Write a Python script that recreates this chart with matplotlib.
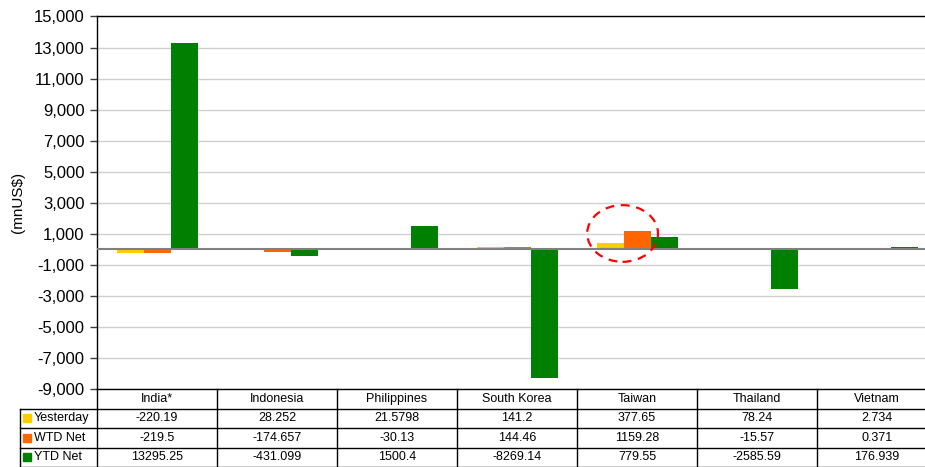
import matplotlib.pyplot as plt
import numpy as np
from matplotlib.patches import Ellipse, Rectangle
from matplotlib.ticker import FuncFormatter

plt.rcParams['font.family'] = ['Liberation Sans', 'DejaVu Sans']

# data
countries = ['India*', 'Indonesia', 'Philippines', 'South Korea', 'Taiwan', 'Thailand', 'Vietnam']
series_names = ['Yesterday', 'WTD Net', 'YTD Net']
yesterday = [-220.19, 28.252, 21.5798, 141.2, 377.65, 78.24, 2.734]
wtd_net = [-219.5, -174.657, -30.13, 144.46, 1159.28, -15.57, 0.371]
ytd_net = [13295.25, -431.099, 1500.4, -8269.14, 779.55, -2585.59, 176.939]
yesterday_txt = ['-220.19', '28.252', '21.5798', '141.2', '377.65', '78.24', '2.734']
wtd_txt = ['-219.5', '-174.657', '-30.13', '144.46', '1159.28', '-15.57', '0.371']
ytd_txt = ['13295.25', '-431.099', '1500.4', '-8269.14', '779.55', '-2585.59', '176.939']
colors = ['#FFCC00', '#FF6600', '#008000']

W, H = 925, 467
fig = plt.figure(figsize=(W / 100, H / 100), dpi=100)
# plot area in pixels: x 97..937, y 16.5..389
ax_h_px = 389 - 16.5
ax = fig.add_axes([97 / W, 1 - 389 / H, 840 / W, ax_h_px / H])

x = np.arange(len(countries))
bw = 0.225
for k, vals in enumerate([yesterday, wtd_net, ytd_net]):
    ax.bar(x + (k - 1) * bw, vals, width=bw, color=colors[k], zorder=3)

ax.set_xlim(-0.5, len(countries) - 0.5)
ax.set_ylim(-9000, 15000)
ax.set_yticks(np.arange(-9000, 15001, 2000))
ax.yaxis.set_major_formatter(FuncFormatter(lambda v, p: f'{v:,.0f}'))
ax.tick_params(axis='y', labelsize=12, length=5, width=1, color='#404040', pad=4)
ax.tick_params(axis='x', bottom=False, labelbottom=False)
ax.grid(axis='y', color='#d0d0d0', lw=1, zorder=0)
ax.axhline(0, color='#808080', lw=1.5, zorder=4)
ax.spines['right'].set_visible(False)
for s in ['left', 'top', 'bottom']:
    ax.spines[s].set_color('black')
    ax.spines[s].set_linewidth(1)
ax.set_ylabel('(mnUS$)', fontsize=11)
ax.yaxis.set_label_coords(-0.086, 0.5)

# highlight around Taiwan
ti = countries.index('Taiwan')
ax.add_patch(Ellipse((ti - 0.12, 1020), 0.59, 3650, fill=False, ec='#FF0000',
                     lw=1.6, ls=(0, (4, 3)), zorder=5))

# data table below the axis
rh = 19.5 / ax_h_px
lx = (20 - 97) / 840
nc = len(countries)
tr = ax.transAxes
line_kw = dict(color='black', lw=1, transform=tr, clip_on=False)
for r in range(1, 5):
    y = -r * rh
    ax.plot([lx, 1], [y, y], **line_kw)
for i in range(nc + 1):
    ax.plot([i / nc, i / nc], [0, -4 * rh], **line_kw)
ax.plot([lx, lx], [-rh, -4 * rh], **line_kw)

fs = 9
for i, c in enumerate(countries):
    ax.text((i + 0.5) / nc, -0.5 * rh, c, transform=tr, ha='center', va='center', fontsize=fs)
for r, row in enumerate([yesterday_txt, wtd_txt, ytd_txt]):
    yc = -(r + 1.5) * rh
    for i, t in enumerate(row):
        ax.text((i + 0.5) / nc, yc, t, transform=tr, ha='center', va='center', fontsize=fs)
    sq_w = 8 / 840
    sq_h = 8 / ax_h_px
    ax.add_patch(Rectangle((lx + 3 / 840, yc - sq_h / 2), sq_w, sq_h, color=colors[r],
                           transform=tr, clip_on=False))
    ax.text(lx + 14 / 840, yc, series_names[r], transform=tr, ha='left', va='center', fontsize=fs)

fig.savefig('out.png', dpi=100)
